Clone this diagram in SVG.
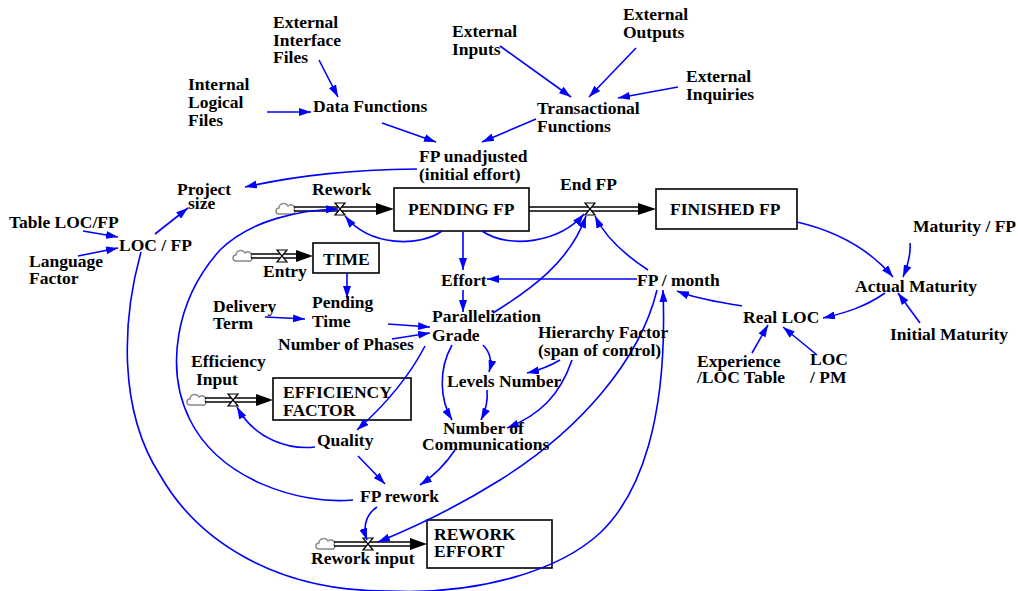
<svg xmlns="http://www.w3.org/2000/svg" width="1018" height="591" viewBox="0 0 1018 591">
<style>
text{font-family:"Liberation Serif","Times New Roman",serif;font-weight:bold;font-size:17.5px;fill:#000}
.c{fill:none;stroke:#0000ff;stroke-width:1.6;marker-end:url(#a)}
.box{fill:#fff;stroke:#000;stroke-width:1.6}
.pipe{stroke:#000;stroke-width:1.4}
.head{fill:#000}
.valve{fill:#fff;stroke:#000;stroke-width:1.2}
.cloud{fill:#fff;stroke:#888;stroke-width:1.4}
</style>
<defs>
<marker id="a" viewBox="0 0 12 8" refX="12" refY="4" markerWidth="12" markerHeight="8" markerUnits="userSpaceOnUse" orient="auto"><path d="M0,0 L12,4 L0,8 z" fill="#0000ff"/></marker>
<path id="cl" class="cloud" d="M-7,5 C-11,5 -11,-1 -7,-1 C-7,-6 0,-7 2,-3 C5,-6 10,-3 8,1 C10,3 8,6 5,5 Z"/>
<polygon id="vl" class="valve" points="-5,-6 5,-6 -5,6 5,6"/>
</defs>
<rect width="1018" height="591" fill="#fff"/>

<g id="pending-fp"><rect class="box" x="394" y="188" width="135" height="43"/><text x="408" y="215">PENDING FP</text></g>
<g id="finished-fp"><rect class="box" x="656" y="189" width="141" height="40"/><text x="670" y="215">FINISHED FP</text></g>
<g id="time"><rect class="box" x="313" y="243" width="66" height="30"/><text x="323" y="265">TIME</text></g>
<g id="efficiency-factor"><rect class="box" x="273" y="378" width="138" height="42"/><text x="283" y="398">EFFICIENCY</text><text x="283" y="416">FACTOR</text></g>
<g id="rework-effort"><rect class="box" x="427" y="520" width="125" height="48"/><text x="434" y="540">REWORK</text><text x="434" y="557">EFFORT</text></g>

<g id="flow-rework">
<use href="#cl" x="286" y="209"/>
<line class="pipe" x1="294" y1="207" x2="380" y2="207"/>
<line class="pipe" x1="294" y1="211" x2="380" y2="211"/>
<polygon class="head" points="376,203 394,209 376,215"/>
<use href="#vl" x="340" y="209"/>
<text x="312" y="195">Rework</text>
</g>
<g id="flow-endfp">
<line class="pipe" x1="529" y1="207" x2="640" y2="207"/>
<line class="pipe" x1="529" y1="211" x2="640" y2="211"/>
<polygon class="head" points="638,203 656,209 638,215"/>
<use href="#vl" x="590" y="209"/>
<text x="560" y="190">End FP</text>
</g>
<g id="flow-entry">
<use href="#cl" x="243" y="256"/>
<line class="pipe" x1="251" y1="254" x2="298" y2="254"/>
<line class="pipe" x1="251" y1="258" x2="298" y2="258"/>
<polygon class="head" points="296,250 313,256 296,262"/>
<use href="#vl" x="282" y="256"/>
<text x="263" y="277">Entry</text>
</g>
<g id="flow-efficiency-input">
<use href="#cl" x="197" y="400"/>
<line class="pipe" x1="205" y1="398" x2="258" y2="398"/>
<line class="pipe" x1="205" y1="402" x2="258" y2="402"/>
<polygon class="head" points="256,394 273,400 256,406"/>
<use href="#vl" x="233" y="400"/>
<text x="191" y="367">Efficiency</text>
<text x="196" y="385">Input</text>
</g>
<g id="flow-rework-input">
<use href="#cl" x="326" y="544"/>
<line class="pipe" x1="334" y1="542" x2="412" y2="542"/>
<line class="pipe" x1="334" y1="546" x2="412" y2="546"/>
<polygon class="head" points="410,538 427,544 410,550"/>
<use href="#vl" x="368" y="544"/>
<text x="311" y="564">Rework input</text>
</g>

<g id="connectors">
<path class="c" d="M267,112 L311,112"/>
<path class="c" d="M319,60 L338,97"/>
<path class="c" d="M500,46 L571,97"/>
<path class="c" d="M636,48 L589,97"/>
<path class="c" d="M678,87 L618,98"/>
<path class="c" d="M382,123 L436,142"/>
<path class="c" d="M536,119 L482,142"/>
<path class="c" d="M417,169 C350,170 300,175 245,187"/>
<path class="c" d="M83,231 L118,237"/>
<path class="c" d="M78,256 L118,248"/>
<path class="c" d="M155,234 L188,208"/>
<path class="c" d="M141,252 C122,320 118,410 160,475 C197,540 275,592 390,591 C480,595 560,570 600,533 C640,495 668,420 663,290"/>
<path class="c" d="M353,500 C300,505 220,480 190,420 C165,370 175,300 220,250 C250,220 300,210 338,209"/>
<path class="c" d="M442,231 C420,247 370,247 345,216"/>
<path class="c" d="M482,231 C510,250 560,242 584,214"/>
<path class="c" d="M493,313 C530,290 570,262 586,216"/>
<path class="c" d="M648,270 C625,255 605,237 595,216"/>
<path class="c" d="M463,232 L463,270"/>
<path class="c" d="M637,279 L487,279"/>
<path class="c" d="M463,290 L463,312"/>
<path class="c" d="M347,273 L347,298"/>
<path class="c" d="M265,317 L305,319"/>
<path class="c" d="M388,324 L430,327"/>
<path class="c" d="M392,339 L430,333"/>
<path class="c" d="M425,346 C410,375 385,405 357,430"/>
<path class="c" d="M315,447 C290,450 255,440 237,407"/>
<path class="c" d="M358,456 L385,484"/>
<path class="c" d="M455,450 C445,465 435,475 420,485"/>
<path class="c" d="M377,507 C365,515 363,528 367,540"/>
<path class="c" d="M657,290 C640,360 580,430 500,480 C460,505 420,525 378,542"/>
<path class="c" d="M483,345 C490,352 492,362 489,372"/>
<path class="c" d="M452,345 C438,370 440,400 452,420"/>
<path class="c" d="M487,390 C488,400 486,410 481,420"/>
<path class="c" d="M560,360 C550,366 540,370 527,373"/>
<path class="c" d="M572,360 C560,395 540,415 507,428"/>
<path class="c" d="M742,306 C720,302 700,300 677,291"/>
<path class="c" d="M885,293 C865,307 845,313 823,318"/>
<path class="c" d="M797,222 C840,232 870,250 893,277"/>
<path class="c" d="M910,243 C911,255 908,265 903,277"/>
<path class="c" d="M920,323 L898,293"/>
<path class="c" d="M752,353 L768,325"/>
<path class="c" d="M817,355 L783,327"/>
</g>

<g id="external-interface-files"><text x="273" y="28">External</text><text x="273" y="46">Interface</text><text x="273" y="63">Files</text></g>
<g id="internal-logical-files"><text x="188" y="90">Internal</text><text x="188" y="108">Logical</text><text x="188" y="126">Files</text></g>
<g id="data-functions"><text x="313" y="112">Data Functions</text></g>
<g id="external-inputs"><text x="452" y="37">External</text><text x="452" y="55">Inputs</text></g>
<g id="external-outputs"><text x="623" y="20">External</text><text x="623" y="38">Outputs</text></g>
<g id="external-inquiries"><text x="686" y="82">External</text><text x="686" y="100">Inquiries</text></g>
<g id="transactional-functions"><text x="537" y="114">Transactional</text><text x="537" y="132">Functions</text></g>
<g id="fp-unadjusted"><text x="419" y="162">FP unadjusted</text><text x="419" y="180">(initial effort)</text></g>
<g id="project-size"><text x="177" y="195">Project</text><text x="188" y="209">size</text></g>
<g id="table-loc-fp"><text x="9" y="228">Table LOC/FP</text></g>
<g id="loc-fp"><text x="119" y="251">LOC / FP</text></g>
<g id="language-factor"><text x="29" y="267">Language</text><text x="29" y="284">Factor</text></g>
<g id="effort"><text x="441" y="286">Effort</text></g>
<g id="fp-month"><text x="637" y="286">FP / month</text></g>
<g id="maturity-fp"><text x="913" y="232">Maturity / FP</text></g>
<g id="actual-maturity"><text x="855" y="292">Actual Maturity</text></g>
<g id="real-loc"><text x="743" y="323">Real LOC</text></g>
<g id="initial-maturity"><text x="890" y="340">Initial Maturity</text></g>
<g id="experience-loc-table"><text x="697" y="367">Experience</text><text x="697" y="383">/LOC Table</text></g>
<g id="loc-pm"><text x="810" y="365">LOC</text><text x="810" y="383">/ PM</text></g>
<g id="delivery-term"><text x="213" y="312">Delivery</text><text x="213" y="329">Term</text></g>
<g id="pending-time"><text x="312" y="308">Pending</text><text x="312" y="327">Time</text></g>
<g id="parallelization-grade"><text x="432" y="322">Parallelization</text><text x="432" y="341">Grade</text></g>
<g id="number-of-phases"><text x="278" y="350">Number of Phases</text></g>
<g id="hierarchy-factor"><text x="538" y="338">Hierarchy Factor</text><text x="538" y="356">(span of control)</text></g>
<g id="levels-number"><text x="447" y="387">Levels Number</text></g>
<g id="quality"><text x="317" y="446">Quality</text></g>
<g id="number-of-communications"><text x="443" y="434">Number of</text><text x="422" y="450">Communications</text></g>
<g id="fp-rework"><text x="360" y="502">FP rework</text></g>
</svg>
